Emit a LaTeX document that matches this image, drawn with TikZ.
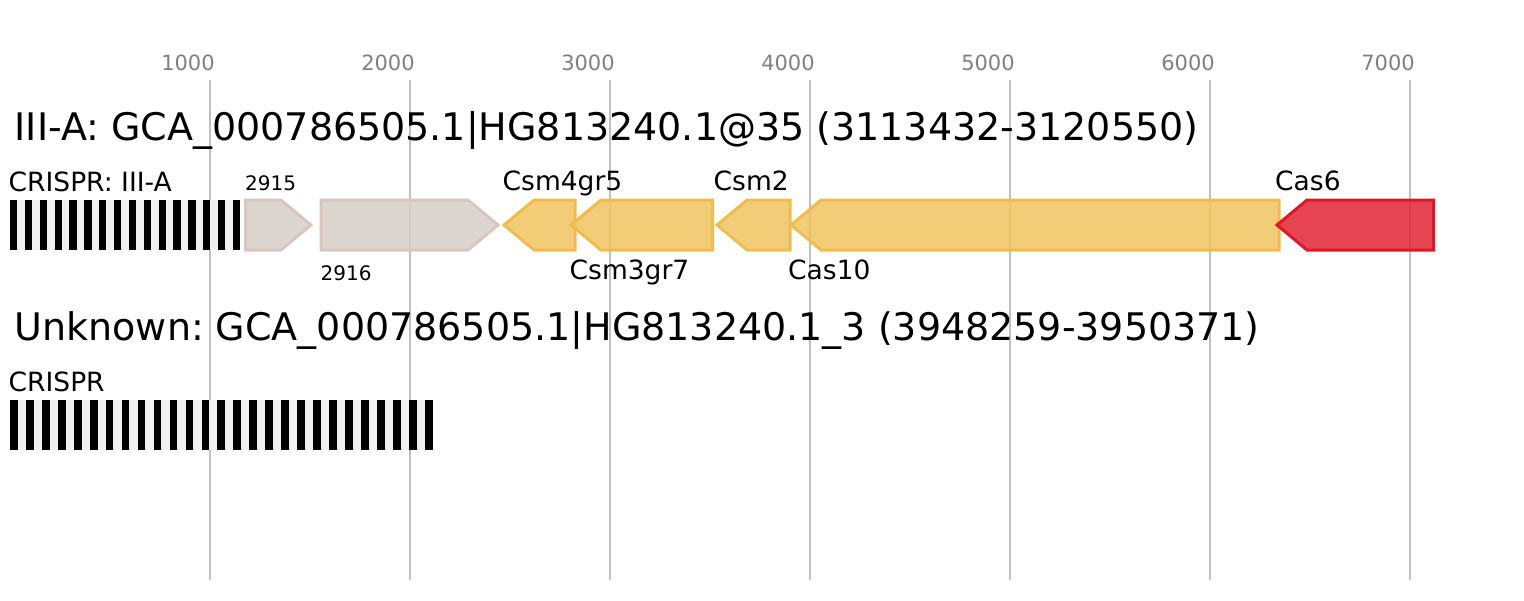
\documentclass[tikz,border=0pt]{standalone}
\usepackage{fontspec}
\setmainfont{DejaVu Sans}
\frenchspacing
\definecolor{gridgray}{HTML}{C0C0C0}
\definecolor{tickgray}{HTML}{808080}
\definecolor{crisprbg}{HTML}{F0F0F0}
\definecolor{othfill}{HTML}{D6CEC8}
\definecolor{othdraw}{HTML}{D6C8BE}
\definecolor{yelfill}{HTML}{F0C460}
\definecolor{yeldraw}{HTML}{F0BD4D}
\definecolor{redfill}{HTML}{E32436}
\definecolor{reddraw}{HTML}{E0172A}
\newcommand\geneR[3]{\draw[#3] (#1,200) -- ({#2-30},200) -- (#2,225) -- ({#2-30},250) -- (#1,250) -- cycle;}
\newcommand\geneL[3]{\draw[#3] (#1,225) -- ({#1+30},200) -- (#2,200) -- (#2,250) -- ({#1+30},250) -- cycle;}
\begin{document}
\begin{tikzpicture}[x=1pt,y=-1pt,
  gridline/.style={draw=gridgray, line width=2pt},
  tick/.style={text=tickgray, font=\fontsize{21}{24}\selectfont, anchor=base, inner sep=0},
  ttl/.style={anchor=base west, font=\fontsize{38}{44}\selectfont, inner sep=0},
  lbl/.style={anchor=base west, font=\fontsize{26.5}{30}\selectfont, inner sep=0},
  num/.style={anchor=base west, font=\fontsize{20}{22}\selectfont, inner sep=0},
  other/.style={fill=othfill, draw=othdraw, line width=3pt, fill opacity=0.85},
  csm/.style={fill=yelfill, draw=yeldraw, line width=3pt, fill opacity=0.85},
  cassix/.style={fill=redfill, draw=reddraw, line width=3pt, fill opacity=0.85},
  rep/.style={fill=black}]
\useasboundingbox[fill=white] (0,0) rectangle (1524,600);
% grid and axis
\foreach \i in {1,...,7} {
  \draw[gridline] ({9.5+200*\i},80) -- ({9.5+200*\i},580);
  \node[tick] (t\i) at ({188+200*(\i-1)},70.5) {\i000};
}
% locus 1
\node[ttl] (title1) at (14.5,140) {III-A: GCA\_000786505.1|HG813240.1@35 (3113432-3120550)};
\node[lbl] (arr1lbl) at (8.5,191) {CRISPR: III-A};
\fill[crisprbg] (10,200) rectangle (239.3,250);
\foreach \k in {0,...,15} \fill[rep] ({10+14.85*\k},200) rectangle ++(7.3,50);
\geneR{245.5}{311}{other}
\geneR{321}{498}{other}
\geneL{504}{575}{csm}
\geneL{571}{712.5}{csm}
\geneL{717}{790}{csm}
\geneL{791}{1279}{csm}
\geneL{1277}{1433.5}{cassix}
\node[num] (g1) at (245,190) {2915};
\node[num] (g2) at (320.5,280) {2916};
\node[lbl] (g3) at (502.5,190) {Csm4gr5};
\node[lbl] (g4) at (569.5,279) {Csm3gr7};
\node[lbl] (g5) at (713.5,190) {Csm2};
\node[lbl] (g6) at (788,279) {Cas10};
\node[lbl] (g7) at (1275,190) {Cas6};
% locus 2
\node[ttl] (title2) at (14.5,340) {Unknown: GCA\_000786505.1|HG813240.1\_3 (3948259-3950371)};
\node[lbl] (arr2lbl) at (8.5,391) {CRISPR};
\fill[crisprbg] (10,400) rectangle (432.7,450);
\foreach \k in {0,...,26} \fill[rep] ({10+15.96*\k},400) rectangle ++(7.7,50);
\end{tikzpicture}
\end{document}
